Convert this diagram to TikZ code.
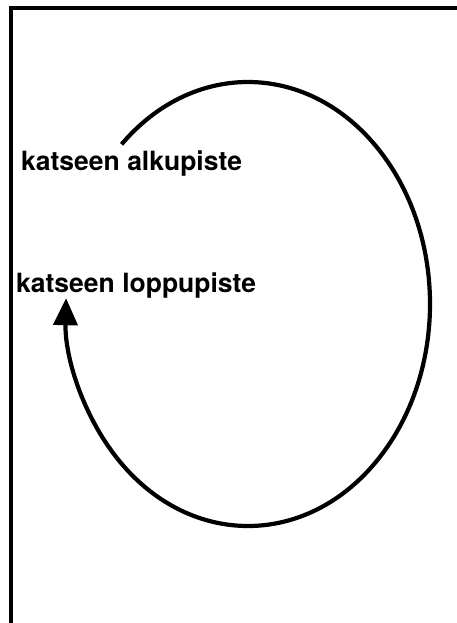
\documentclass[tikz,border=0pt]{standalone}
\usepackage{fontspec}
\newfontfamily\gazefont{TeX Gyre Heros}
\usetikzlibrary{calc,positioning,arrows.meta}

\begin{document}
\begin{tikzpicture}[x=1pt, y=1pt,
  frameline/.style={line width=3.6pt, line cap=rect},
  gazepath/.style={line width=4.2pt, -{Triangle[length=27pt, width=24pt]}},
  gazelabel/.style={font=\gazefont\bfseries\fontsize{26.5}{30}\selectfont, anchor=base west, inner sep=0pt}]
\useasboundingbox (0,0) rectangle (457,-623);

\coordinate (fbottom) at (11,-623);
\coordinate (fcorner) at (11,-8);
\coordinate (fright)  at (457,-8);
\draw[frameline] (fbottom) -- (fcorner) -- (fright);

\node[gazelabel] (alku)  at (21,-170) {katseen alkupiste};
\node[gazelabel] (loppu) at (16,-292) {katseen loppupiste};

% gaze path: ellipse round (centre)
\coordinate (centre) at (248,-304);
\draw[gazepath] ($(centre)+(134:182 and 222)$)
  arc[start angle=134, end angle=-181.5, x radius=182, y radius=222];
\end{tikzpicture}
\end{document}
